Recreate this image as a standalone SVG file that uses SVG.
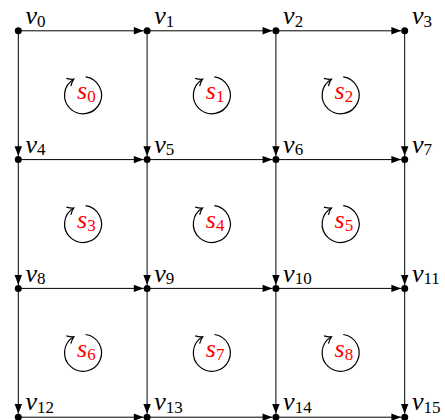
<svg xmlns="http://www.w3.org/2000/svg" width="445" height="420" viewBox="0 0 445 420">
<style>
.e{stroke:#000;stroke-width:1;fill:none;marker-end:url(#ah)}
.d{fill:#000}
.c{stroke:#000;stroke-width:1.2;fill:none;marker-end:url(#ch)}
.v{fill:#000}
.s{fill:#ff0000}
</style>
<defs>
<marker id="ah" markerUnits="userSpaceOnUse" markerWidth="12" markerHeight="10" viewBox="-10 -4 11 8" refX="0" refY="0" orient="auto">
<path d="M-9,-3.4 L0,0 L-9,3.4 Z" fill="#000"/>
</marker>
<marker id="ch" markerUnits="userSpaceOnUse" markerWidth="12" markerHeight="12" viewBox="-9 -6 10 12" refX="0" refY="0" orient="auto">
<path d="M-6,-4.5 Q-2.5,-1 0,0 Q-2.5,1 -6,4.5" fill="none" stroke="#000" stroke-width="1.2"/>
</marker>
</defs>
<g id="connectors">
<path class="e" d="M18.3,30.8 H143.6"/>
<path class="e" d="M147.1,30.8 H272.4"/>
<path class="e" d="M275.9,30.8 H401.2"/>
<path class="e" d="M18.3,159.6 H143.6"/>
<path class="e" d="M147.1,159.6 H272.4"/>
<path class="e" d="M275.9,159.6 H401.2"/>
<path class="e" d="M18.3,288.4 H143.6"/>
<path class="e" d="M147.1,288.4 H272.4"/>
<path class="e" d="M275.9,288.4 H401.2"/>
<path class="e" d="M18.3,417.2 H143.6"/>
<path class="e" d="M147.1,417.2 H272.4"/>
<path class="e" d="M275.9,417.2 H401.2"/>
<path class="e" d="M18.3,30.8 V156.1"/>
<path class="e" d="M18.3,159.6 V284.9"/>
<path class="e" d="M18.3,288.4 V413.7"/>
<path class="e" d="M147.1,30.8 V156.1"/>
<path class="e" d="M147.1,159.6 V284.9"/>
<path class="e" d="M147.1,288.4 V413.7"/>
<path class="e" d="M275.9,30.8 V156.1"/>
<path class="e" d="M275.9,159.6 V284.9"/>
<path class="e" d="M275.9,288.4 V413.7"/>
<path class="e" d="M404.7,30.8 V156.1"/>
<path class="e" d="M404.7,159.6 V284.9"/>
<path class="e" d="M404.7,288.4 V413.7"/>
</g>
<g font-family="Liberation Serif, Times New Roman, serif" font-style="italic" font-size="26">
<g id="v0"><circle class="d" cx="18.3" cy="30.8" r="3.5"/><text class="v" x="25.5" y="24">v<tspan font-style="normal" font-size="17" dy="2.5">0</tspan></text></g>
<g id="v1"><circle class="d" cx="147.1" cy="30.8" r="3.5"/><text class="v" x="154.3" y="24">v<tspan font-style="normal" font-size="17" dy="2.5">1</tspan></text></g>
<g id="v2"><circle class="d" cx="275.9" cy="30.8" r="3.5"/><text class="v" x="283.1" y="24">v<tspan font-style="normal" font-size="17" dy="2.5">2</tspan></text></g>
<g id="v3"><circle class="d" cx="404.7" cy="30.8" r="3.5"/><text class="v" x="411.9" y="24">v<tspan font-style="normal" font-size="17" dy="2.5">3</tspan></text></g>
<g id="v4"><circle class="d" cx="18.3" cy="159.6" r="3.5"/><text class="v" x="25.5" y="152.8">v<tspan font-style="normal" font-size="17" dy="2.5">4</tspan></text></g>
<g id="v5"><circle class="d" cx="147.1" cy="159.6" r="3.5"/><text class="v" x="154.3" y="152.8">v<tspan font-style="normal" font-size="17" dy="2.5">5</tspan></text></g>
<g id="v6"><circle class="d" cx="275.9" cy="159.6" r="3.5"/><text class="v" x="283.1" y="152.8">v<tspan font-style="normal" font-size="17" dy="2.5">6</tspan></text></g>
<g id="v7"><circle class="d" cx="404.7" cy="159.6" r="3.5"/><text class="v" x="411.9" y="152.8">v<tspan font-style="normal" font-size="17" dy="2.5">7</tspan></text></g>
<g id="v8"><circle class="d" cx="18.3" cy="288.4" r="3.5"/><text class="v" x="25.5" y="281.6">v<tspan font-style="normal" font-size="17" dy="2.5">8</tspan></text></g>
<g id="v9"><circle class="d" cx="147.1" cy="288.4" r="3.5"/><text class="v" x="154.3" y="281.6">v<tspan font-style="normal" font-size="17" dy="2.5">9</tspan></text></g>
<g id="v10"><circle class="d" cx="275.9" cy="288.4" r="3.5"/><text class="v" x="283.1" y="281.6">v<tspan font-style="normal" font-size="17" dy="2.5">10</tspan></text></g>
<g id="v11"><circle class="d" cx="404.7" cy="288.4" r="3.5"/><text class="v" x="411.9" y="281.6">v<tspan font-style="normal" font-size="17" dy="2.5">11</tspan></text></g>
<g id="v12"><circle class="d" cx="18.3" cy="417.2" r="3.5"/><text class="v" x="25.5" y="410.4">v<tspan font-style="normal" font-size="17" dy="2.5">12</tspan></text></g>
<g id="v13"><circle class="d" cx="147.1" cy="417.2" r="3.5"/><text class="v" x="154.3" y="410.4">v<tspan font-style="normal" font-size="17" dy="2.5">13</tspan></text></g>
<g id="v14"><circle class="d" cx="275.9" cy="417.2" r="3.5"/><text class="v" x="283.1" y="410.4">v<tspan font-style="normal" font-size="17" dy="2.5">14</tspan></text></g>
<g id="v15"><circle class="d" cx="404.7" cy="417.2" r="3.5"/><text class="v" x="411.9" y="410.4">v<tspan font-style="normal" font-size="17" dy="2.5">15</tspan></text></g>
<g id="s0" transform="translate(83,95.2)"><path class="c" d="M2.6,-18.3 A18.5,18.5 0 1 1 -9.2,-16"/><text class="s" x="-6" y="4">s<tspan font-style="normal" font-size="17" dy="3">0</tspan></text></g>
<g id="s1" transform="translate(211.8,95.2)"><path class="c" d="M2.6,-18.3 A18.5,18.5 0 1 1 -9.2,-16"/><text class="s" x="-6" y="4">s<tspan font-style="normal" font-size="17" dy="3">1</tspan></text></g>
<g id="s2" transform="translate(340.6,95.2)"><path class="c" d="M2.6,-18.3 A18.5,18.5 0 1 1 -9.2,-16"/><text class="s" x="-6" y="4">s<tspan font-style="normal" font-size="17" dy="3">2</tspan></text></g>
<g id="s3" transform="translate(83,224)"><path class="c" d="M2.6,-18.3 A18.5,18.5 0 1 1 -9.2,-16"/><text class="s" x="-6" y="4">s<tspan font-style="normal" font-size="17" dy="3">3</tspan></text></g>
<g id="s4" transform="translate(211.8,224)"><path class="c" d="M2.6,-18.3 A18.5,18.5 0 1 1 -9.2,-16"/><text class="s" x="-6" y="4">s<tspan font-style="normal" font-size="17" dy="3">4</tspan></text></g>
<g id="s5" transform="translate(340.6,224)"><path class="c" d="M2.6,-18.3 A18.5,18.5 0 1 1 -9.2,-16"/><text class="s" x="-6" y="4">s<tspan font-style="normal" font-size="17" dy="3">5</tspan></text></g>
<g id="s6" transform="translate(83,352.8)"><path class="c" d="M2.6,-18.3 A18.5,18.5 0 1 1 -9.2,-16"/><text class="s" x="-6" y="4">s<tspan font-style="normal" font-size="17" dy="3">6</tspan></text></g>
<g id="s7" transform="translate(211.8,352.8)"><path class="c" d="M2.6,-18.3 A18.5,18.5 0 1 1 -9.2,-16"/><text class="s" x="-6" y="4">s<tspan font-style="normal" font-size="17" dy="3">7</tspan></text></g>
<g id="s8" transform="translate(340.6,352.8)"><path class="c" d="M2.6,-18.3 A18.5,18.5 0 1 1 -9.2,-16"/><text class="s" x="-6" y="4">s<tspan font-style="normal" font-size="17" dy="3">8</tspan></text></g>
</g>
</svg>
